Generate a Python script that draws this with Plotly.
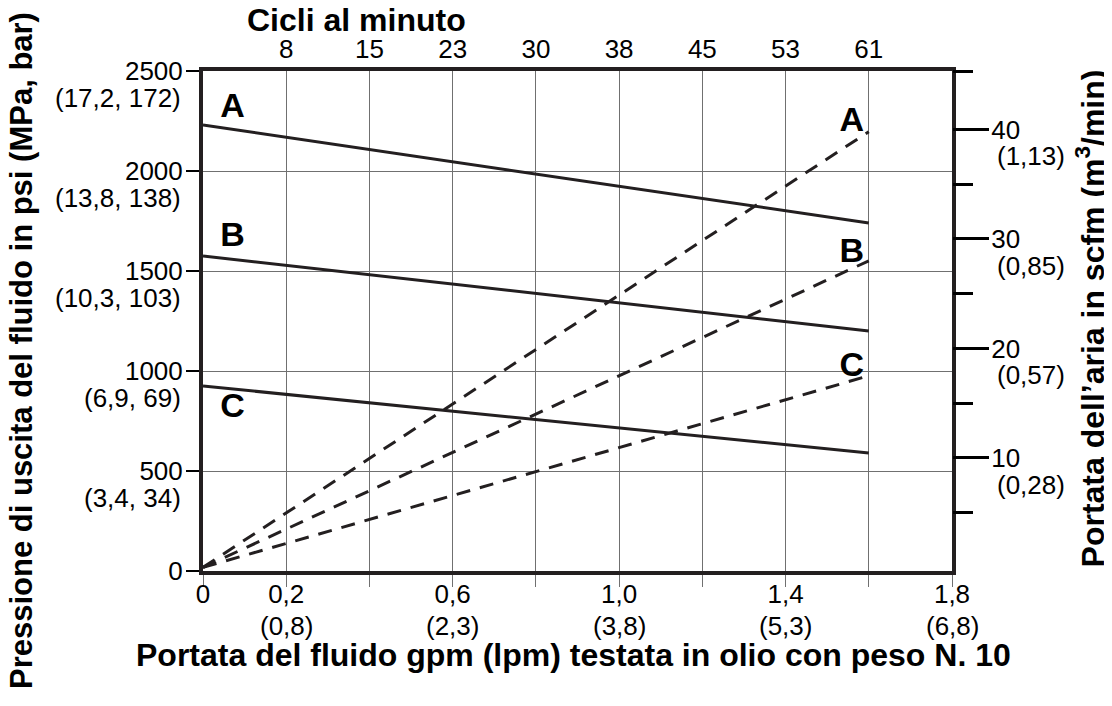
import plotly.graph_objects as go

# ---------------- data ----------------
flow_gpm = [0.0, 1.6]                      # fluid flow, gpm
psi_A = [2230, 1740]                       # outlet pressure, psi (solid lines)
psi_B = [1575, 1200]
psi_C = [925, 590]
scfm_A = [0.0, 39.8]                       # air consumption, scfm (dashed lines)
scfm_B = [0.0, 28.0]
scfm_C = [0.0, 17.5]

x_tick_vals = [0, 0.2, 0.6, 1.0, 1.4, 1.8]
x_tick_text = ["0", "0,2", "0,6", "1,0", "1,4", "1,8"]
x_minor_vals = [0.4, 0.8, 1.2, 1.6]
x_sub_vals = [0.2, 0.6, 1.0, 1.4, 1.8]
x_sub_text = ["(0,8)", "(2,3)", "(3,8)", "(5,3)", "(6,8)"]
cycle_vals = [0.2, 0.4, 0.6, 0.8, 1.0, 1.2, 1.4, 1.6]
cycle_text = ["8", "15", "23", "30", "38", "45", "53", "61"]
psi_vals = [0, 500, 1000, 1500, 2000, 2500]
psi_text = ["0", "500", "1000", "1500", "2000", "2500"]
psi_sub_vals = [500, 1000, 1500, 2000, 2500]
psi_sub_text = ["(3,4, 34)", "(6,9, 69)", "(10,3, 103)", "(13,8, 138)", "(17,2, 172)"]
scfm_vals = [10, 20, 30, 40]
scfm_text = ["10", "20", "30", "40"]
scfm_sub_text = ["(0,28)", "(0,57)", "(0,85)", "(1,13)"]
scfm_minor = [5, 15, 25, 35, 45.3]

letters = ["A", "B", "C", "A", "B", "C"]
letter_flow = [0.071, 0.071, 0.071, 1.559, 1.559, 1.559]
letter_psi = [2313, 1668, 813, 2243, 1588, 1018]

FONT = "Liberation Sans, Arial, Helvetica, sans-serif"
INK = "#231f20"
GRID = "#707070"
TICK_SIZE = 26

fig = go.Figure()

for ys in (psi_A, psi_B, psi_C):
    fig.add_trace(go.Scatter(x=flow_gpm, y=ys, xaxis="x", yaxis="y", mode="lines",
                             line=dict(color=INK, width=3), hoverinfo="skip"))
for ys in (scfm_A, scfm_B, scfm_C):
    fig.add_trace(go.Scatter(x=flow_gpm, y=ys, xaxis="x", yaxis="y2", mode="lines",
                             line=dict(color=INK, width=3, dash="14px,10px"),
                             hoverinfo="skip"))
# curve letters, placed on the top (cycles) axis which shares the flow scale
fig.add_trace(go.Scatter(x=letter_flow, y=letter_psi, xaxis="x2", yaxis="y",
                         mode="text", text=letters, hoverinfo="skip",
                         textfont=dict(family=FONT, size=34, color="black", weight="bold")))

tick_font = dict(family=FONT, size=TICK_SIZE, color="black")
title_font = dict(family=FONT, size=32, color="black", weight="bold")

annotations = []
for v, t in zip(psi_sub_vals, psi_sub_text):
    annotations.append(dict(text=t, x=0, y=v, xref="paper", yref="y", showarrow=False,
                            xanchor="right", yanchor="middle", xshift=-20, yshift=-27,
                            font=tick_font))
for v, t in zip(scfm_vals, scfm_sub_text):
    annotations.append(dict(text=t, x=1, y=v, xref="paper", yref="y2", showarrow=False,
                            xanchor="left", yanchor="middle", xshift=43, yshift=-27,
                            font=tick_font))
for v, t in zip(x_sub_vals, x_sub_text):
    annotations.append(dict(text=t, x=v, y=0, xref="x", yref="paper", showarrow=False,
                            xanchor="center", yanchor="middle", yshift=-55,
                            font=tick_font))

annotations += [
    dict(text="Cicli al minuto", x=0.2056, y=1.102, xref="paper", yref="paper",
         showarrow=False, font=title_font, xanchor="center", yanchor="middle"),
    dict(text="Portata del fluido gpm (lpm) testata in olio con peso N. 10",
         x=0.494, y=-0.1676, xref="paper", yref="paper", showarrow=False,
         font=title_font, xanchor="center", yanchor="middle"),
    dict(text="Pressione di uscita del fluido in psi (MPa, bar)", x=-0.2423, y=0.441,
         xref="paper", yref="paper", showarrow=False, textangle=-90,
         font=dict(family=FONT, size=31, color="black", weight="bold"),
         xanchor="center", yanchor="middle"),
    dict(text="Portata dell’aria in scfm (m<sup>3</sup>/min)", x=1.1842, y=0.505,
         xref="paper", yref="paper", showarrow=False, textangle=-90, font=title_font,
         xanchor="center", yanchor="middle"),
]

fig.update_layout(
    width=1104, height=690,
    margin=dict(l=195, r=160, t=63, b=127, pad=0),
    plot_bgcolor="white", paper_bgcolor="white",
    showlegend=False,
    annotations=annotations,
    xaxis=dict(range=[0, 1.8], tickmode="array", tickvals=x_tick_vals, ticktext=x_tick_text,
               showgrid=True, gridcolor=GRID, gridwidth=1, zeroline=False,
               ticks="outside", ticklen=12, tickcolor=GRID, tickwidth=1,
               minor=dict(tickmode="array", tickvals=x_minor_vals, ticks="outside",
                          ticklen=12, tickcolor=GRID, tickwidth=1,
                          showgrid=True, gridcolor=GRID, gridwidth=1),
               showline=True, linewidth=4, linecolor=INK, mirror=True,
               ticklabelstandoff=-15, tickfont=tick_font, fixedrange=True),
    xaxis2=dict(range=[0, 1.8], overlaying="x", side="top", anchor="y",
                tickmode="array", tickvals=cycle_vals, ticktext=cycle_text,
                showgrid=False, zeroline=False, ticks="", showline=False,
                ticklabelstandoff=7, tickfont=tick_font, fixedrange=True),
    yaxis=dict(range=[0, 2500], tickmode="array", tickvals=psi_vals, ticktext=psi_text,
               showgrid=True, gridcolor=GRID, gridwidth=1, zeroline=False,
               ticks="outside", ticklen=13, tickcolor="black", tickwidth=1.5,
               showline=True, linewidth=4, linecolor=INK, mirror=True,
               ticklabelstandoff=-2, tickfont=tick_font, fixedrange=True),
    yaxis2=dict(range=[-0.33, 45.34], overlaying="y", side="right", anchor="x",
                tickmode="array", tickvals=scfm_vals, ticktext=scfm_text,
                showgrid=False, zeroline=False, showline=False,
                ticks="outside", ticklen=36, tickwidth=3, tickcolor="black",
                minor=dict(tickmode="array", tickvals=scfm_minor, ticks="outside",
                           ticklen=20, tickwidth=3, tickcolor="black", showgrid=False),
                ticklabelstandoff=-3, tickfont=tick_font, fixedrange=True),
)

fig.write_html("out.html")
